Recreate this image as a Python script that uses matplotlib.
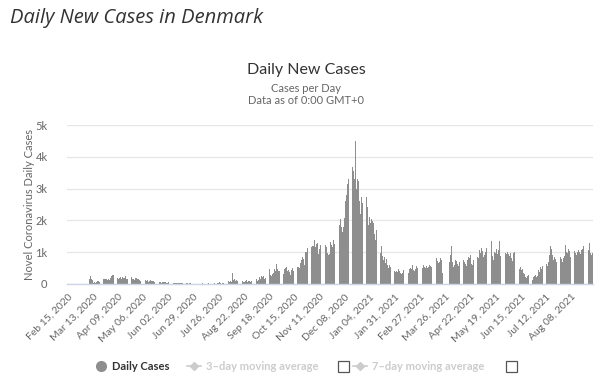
import numpy as np
import pandas as pd
import matplotlib
matplotlib.use("Agg")
import matplotlib.pyplot as plt
from matplotlib.lines import Line2D
from matplotlib.patches import Rectangle

# -------------------------------------------------
# Daily new cases, Denmark
# -------------------------------------------------

start_date = "2020-02-15"

feb20 = [0, 0, 0, 0, 0, 0, 0, 0, 0, 0, 0, 0, 1, 0, 1]
mar20 = [2, 0, 1, 6, 5, 9, 13, 11, 54, 172,
         252, 160, 127, 37, 63, 34, 60, 87, 94, 76,
         104, 98, 95, 152, 159, 165, 171, 164, 132, 148,
         140]
apr20 = [179, 247, 292, 283, 371, 390, 331, 184, 177, 144,
         178, 233, 170, 207, 188, 197, 237, 170, 142, 160,
         180, 207, 182, 225, 171, 144, 118, 177, 203, 154]
may20 = [145, 123, 108, 120, 160, 126, 150, 187, 122, 96,
         118, 76, 96, 118, 79, 109, 86, 62, 68, 64,
         59, 70, 82, 56, 48, 44, 61, 71, 67, 51,
         43]
jun20 = [37, 49, 26, 42, 47, 53, 37, 30, 24, 16,
         36, 46, 32, 38, 23, 18, 32, 31, 40, 20,
         12, 22, 16, 12, 17, 24, 9, 8, 14, 11]
jul20 = [11, 12, 16, 8, 9, 4, 9, 10, 20, 14,
         9, 6, 10, 11, 25, 10, 15, 7, 3, 4,
         10, 18, 9, 13, 25, 21, 54, 29, 9, 33,
         35]
aug20 = [64, 49, 76, 42, 56, 79, 64, 88, 54, 340,
         133, 152, 105, 127, 81, 77, 88, 121, 97, 112,
         91, 77, 52, 107, 132, 61, 106, 94, 62, 89,
         73]
sep20 = [128, 103, 124, 151, 146, 102, 135, 207, 170, 243,
         209, 246, 160, 187, 286, 241, 352, 269, 456, 283,
         261, 330, 344, 484, 410, 630, 456, 396, 402, 316]
oct20 = [445, 467, 354, 300, 458, 494, 547, 424, 425, 362,
         270, 437, 488, 420, 466, 423, 340, 311, 536, 542,
         510, 645, 760, 859, 780, 593, 1018, 1021, 1130, 1089,
         823]
nov20 = [764, 1017, 1153, 1198, 1208, 1390, 1154, 1248, 1300, 931,
         1092, 1216, 1123, 1098, 1066, 823, 1009, 1240, 1152, 965,
         897, 940, 1310, 1213, 1174, 1370, 1260, 1091, 981, 1227]
dec20 = [1600, 1489, 1843, 2030, 1793, 1628, 1786, 2088, 2610, 2810,
         3130, 3290, 2860, 2478, 3290, 3600, 3670, 3540, 3310, 4508,
         3003, 3290, 3250, 2600, 2210, 2750, 2540, 2120, 2730, 2590,
         2345]
jan21 = [2750, 2428, 1850, 2120, 1930, 2042, 1980, 1930, 1560, 1390,
         1710, 1350, 1160, 1450, 1020, 980, 1180, 866, 742, 860,
         660, 780, 610, 502, 596, 540, 473, 440, 388, 352,
         410]
feb21 = [380, 421, 363, 456, 420, 347, 301, 358, 440, 412,
         393, 451, 384, 329, 360, 458, 510, 476, 588, 452,
         402, 476, 560, 498, 530, 574, 470, 445]
mar21 = [546, 512, 603, 540, 488, 556, 492, 520, 610, 580,
         530, 1970, 660, 700, 612, 780, 810, 720, 652, 700,
         820, 760, 350, 0, 0, 0, 0, 520, 640, 780,
         700]
apr21 = [920, 1180, 700, 520, 610, 760, 720, 640, 560, 700,
         620, 540, 680, 820, 760, 700, 630, 560, 760, 860,
         820, 900, 640, 600, 760, 880, 850, 920, 700, 860]
may21 = [820, 1080, 960, 1120, 1040, 860, 900, 1000, 1140, 1080,
         980, 1200, 1010, 1100, 1340, 870, 760, 1020, 980, 1110,
         930, 1080, 1340, 890, 760, 1010, 1020, 960, 870, 990,
         940]
jun21 = [1010, 950, 880, 960, 820, 720, 980, 1000, 760, 850,
         720, 640, 500, 470, 550, 440, 480, 360, 300, 220,
         180, 250, 290, 200, 140, 170, 150, 130, 210, 260]
jul21 = [290, 220, 260, 440, 380, 520, 480, 560, 610, 480,
         430, 660, 640, 560, 700, 920, 1180, 1100, 900, 760,
         850, 780, 700, 660, 720, 820, 800, 850, 780, 700,
         820]
aug21 = [880, 1230, 1000, 980, 1090, 1040, 860, 1120, 980, 1060,
         1140, 1040, 980, 900, 1020, 1080, 1000, 940, 1060, 1100,
         1180, 1020, 960, 1000, 1080, 1120, 1060, 1290, 980, 910,
         960]

daily_cases = (feb20 + mar20 + apr20 + may20 + jun20 + jul20 + aug20
               + sep20 + oct20 + nov20 + dec20 + jan21 + feb21 + mar21
               + apr21 + may21 + jun21 + jul21 + aug21)

dates = pd.date_range(start_date, periods=len(daily_cases), freq="D")
days = np.arange(len(daily_cases))

y_ticks = [0, 1000, 2000, 3000, 4000, 5000]
y_tick_labels = ["0", "1k", "2k", "3k", "4k", "5k"]

tick_step = 27
x_ticks = days[::tick_step]
x_tick_labels = [d.strftime("%b %d, %Y") for d in dates[::tick_step]]

# -------------------------------------------------
# Plot
# -------------------------------------------------

W, H = 600, 382
fig = plt.figure(figsize=(W / 100, H / 100), dpi=100)

text_grey = "#666666"

fig.text(10 / W, 1 - 18 / H, "Daily New Cases in Denmark",
         fontsize=14.5, style="italic", family="Open Sans",
         color="#333333", va="center", ha="left")

fig.text(306 / W, 1 - 70 / H, "Daily New Cases",
         fontsize=11.5, family="Lato", color="#333333",
         va="center", ha="center")
fig.text(306 / W, 1 - 88 / H, "Cases per Day",
         fontsize=8, family="Lato", color=text_grey,
         va="center", ha="center")
fig.text(306 / W, 1 - 101 / H, "Data as of 0:00 GMT+0",
         fontsize=8, family="Lato", color=text_grey,
         va="center", ha="center")

ax = fig.add_axes([67 / W, 1 - 284 / H, (593 - 67) / W, (284 - 125) / H])

ax.bar(days, daily_cases, width=0.75, color="#8e8e8e", linewidth=0)

ax.set_xlim(-0.5, len(daily_cases) - 0.5)
ax.set_ylim(0, 5000)

ax.set_yticks(y_ticks)
ax.set_yticklabels(y_tick_labels, family="Lato", fontsize=8, color=text_grey)
ax.set_xticks(x_ticks)
ax.set_xticklabels(x_tick_labels, rotation=45, ha="right",
                   rotation_mode="anchor", family="Lato",
                   fontsize=7.5, color=text_grey)

ax.tick_params(axis="both", length=0)
ax.tick_params(axis="y", pad=14)
ax.tick_params(axis="x", pad=6)

ax.grid(axis="y", color="#e6e6e6", linewidth=0.9)
ax.set_axisbelow(True)
for side in ["top", "right", "left"]:
    ax.spines[side].set_visible(False)
ax.spines["bottom"].set_color("#ccd6eb")
ax.spines["bottom"].set_linewidth(1)

fig.text(30 / W, 1 - 205 / H, "Novel Coronavirus Daily Cases",
         rotation=90, fontsize=8, family="Lato", color=text_grey,
         va="center", ha="center")

# -------------------------------------------------
# Legend (drawn in figure coordinates)
# -------------------------------------------------

leg_y = 1 - 366 / H
fig.add_artist(Line2D([101 / W], [leg_y], marker="o", markersize=7,
                      color="#8e8e8e", linestyle="none"))
fig.text(112 / W, leg_y, "Daily Cases", fontsize=8, weight="bold",
         family="Lato", color="#333333", va="center", ha="left")

light = "#cccccc"
for x0, label, box_x in [(187, "3\u2013day moving average", 338),
                         (353, "7\u2013day moving average", 506)]:
    fig.add_artist(Line2D([x0 / W, (x0 + 14) / W], [leg_y, leg_y],
                          color=light, linewidth=1.2))
    fig.add_artist(Line2D([(x0 + 7) / W], [leg_y], marker="D",
                          markersize=4, color=light, linestyle="none"))
    fig.text((x0 + 19) / W, leg_y, label, fontsize=8, weight="bold",
             family="Lato", color=light, va="center", ha="left")
    fig.add_artist(Rectangle((box_x / W, leg_y - 5.5 / H), 11 / W, 11 / H,
                             fill=False, edgecolor="#555555", linewidth=0.9,
                             transform=fig.transFigure))

fig.savefig("out.png", dpi=100, facecolor="white")
